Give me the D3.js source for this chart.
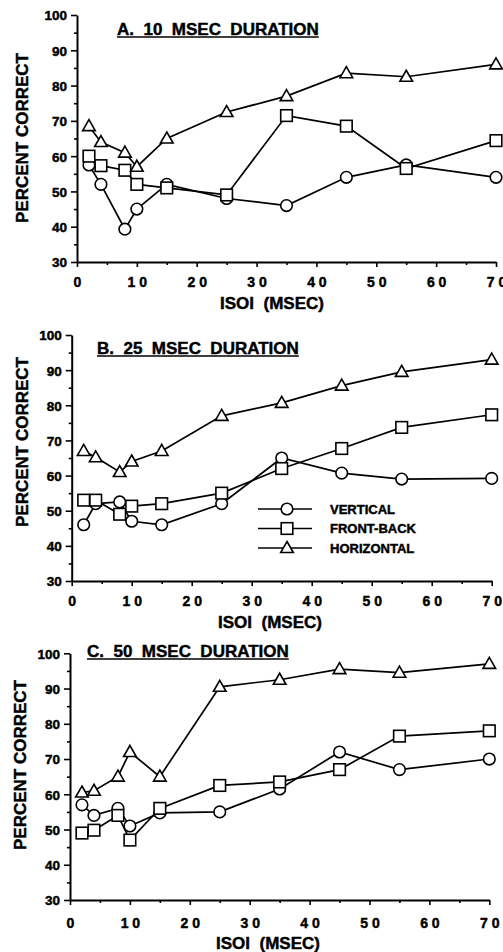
<!DOCTYPE html>
<html>
<head>
<meta charset="utf-8">
<script src="https://cdn.jsdelivr.net/npm/d3@7"></script>
<style>
  html, body { margin: 0; padding: 0; background: #fff; }
  svg { display: block; }
  text { font-family: "Liberation Sans", Arial, Helvetica, sans-serif; font-weight: bold; fill: #000; stroke: #000; stroke-width: 0.45px; }
</style>
</head>
<body>
<svg id="chart" width="503" height="952"></svg>
<script>
// ISOI values (msec) shared by every panel
const isoi = [2, 4, 8, 10, 15, 25, 35, 45, 55, 70];

// Panel titles
const panelTitles = ["A.  10  MSEC  DURATION", "B.  25  MSEC  DURATION", "C.  50  MSEC  DURATION"];

// Series names (legend order)
const seriesNames = ["VERTICAL", "FRONT-BACK", "HORIZONTAL"];

// A. 10 msec duration
const verticalA   = [57.5, 52, 39.3, 45, 52, 48, 46, 54, 57.5, 54];
const frontBackA  = [60, 57.3, 56, 52, 51, 49, 71.5, 68.5, 56.5, 64.4];
const horizontalA = [68.5, 64, 61, 57, 65, 72.5, 77, 83.5, 82.5, 86];

// B. 25 msec duration
const verticalB   = [46, 52, 52.5, 47, 46, 52, 65, 60.7, 59, 59.2];
const frontBackB  = [53, 53, 49, 51.3, 52, 55, 62, 67.7, 73.7, 77.3];
const horizontalB = [67, 65.2, 61, 64, 67, 77, 80.7, 85.6, 89.5, 93];

// C. 50 msec duration
const verticalC   = [57, 54, 56, 51, 54.7, 55, 61.5, 72, 67, 70];
const frontBackC  = [49, 49.8, 54, 47, 56, 62.5, 63.5, 67, 76.5, 78];
const horizontalC = [60.5, 61, 65, 72, 65, 90.5, 92.5, 95.5, 94.5, 97];

// Axis ticks
const yTickValues = [30, 40, 50, 60, 70, 80, 90, 100];
const xTickValues = [0, 10, 20, 30, 40, 50, 60, 70];
const xTickLabels = ["0", "1 0", "2 0", "3 0", "4 0", "5 0", "6 0", "7 0"];

const panelData = [
  [verticalA, frontBackA, horizontalA],
  [verticalB, frontBackB, horizontalB],
  [verticalC, frontBackC, horizontalC]
];

// Layout of each panel on the page
const layout = [
  { left: 77,   right: 496,   top: 15,    bottom: 262, tickY: 287, labelX: 272, labelY: 309, yLabX: 22, yLabY: 138, titleX: 117, titleY: 35  },
  { left: 71.7, right: 491.7, top: 335,   bottom: 581, tickY: 606, labelX: 270, labelY: 628, yLabX: 22, yLabY: 442, titleX: 97,  titleY: 354 },
  { left: 70,   right: 489.3, top: 653.3, bottom: 900, tickY: 928, labelX: 268, labelY: 949, yLabX: 20, yLabY: 765, titleX: 87,  titleY: 657 }
];

const svg = d3.select("#chart");

// Marker shapes: circle, square, triangle (open, white fill)
function drawMarker(g, kind, cx, cy) {
  if (kind === 0) {
    g.append("circle").attr("cx", cx).attr("cy", cy).attr("r", 5.8)
      .attr("fill", "#fff").attr("stroke", "#000").attr("stroke-width", 1.6);
  } else if (kind === 1) {
    g.append("rect").attr("x", cx - 5.8).attr("y", cy - 5.8).attr("width", 11.6).attr("height", 11.6)
      .attr("fill", "#fff").attr("stroke", "#000").attr("stroke-width", 1.6);
  } else {
    const p = d3.path();
    p.moveTo(cx, cy - 6.5);
    p.lineTo(cx + 6.3, cy + 4.5);
    p.lineTo(cx - 6.3, cy + 4.5);
    p.closePath();
    g.append("path").attr("d", p.toString())
      .attr("fill", "#fff").attr("stroke", "#000").attr("stroke-width", 1.6).attr("stroke-linejoin", "miter");
  }
}

layout.forEach((L, pi) => {
  const x = d3.scaleLinear().domain([0, 70]).range([L.left, L.right]);
  const y = d3.scaleLinear().domain([30, 100]).range([L.bottom, L.top]);
  const g = svg.append("g");

  // Y axis: major ticks every 10, minor every 5
  const yAxis = d3.axisLeft(y).tickValues(yTickValues).tickSize(6).tickPadding(4).tickSizeOuter(0);
  const ya = g.append("g").attr("transform", `translate(${L.left},0)`).call(yAxis);
  ya.attr("font-family", null).attr("font-size", null);
  ya.select(".domain").attr("stroke-width", 2);
  ya.selectAll(".tick line").attr("stroke-width", 1.6);
  ya.selectAll(".tick text").attr("font-size", 13.5).attr("dy", "0.36em");
  const yMinor = d3.axisLeft(y).tickValues(d3.range(35, 100, 10)).tickSize(3).tickFormat("");
  const ym = g.append("g").attr("transform", `translate(${L.left},0)`).call(yMinor);
  ym.select(".domain").remove();
  ym.selectAll(".tick line").attr("stroke-width", 1.6);

  // X axis
  const xAxis = d3.axisBottom(x).tickValues(xTickValues).tickSize(5).tickSizeOuter(0)
    .tickFormat((d, i) => xTickLabels[i]);
  const xa = g.append("g").attr("transform", `translate(0,${L.bottom})`).call(xAxis);
  xa.attr("font-family", null).attr("font-size", null);
  xa.select(".domain").attr("stroke-width", 2);
  xa.selectAll(".tick line").attr("stroke-width", 1.6);
  xa.selectAll(".tick text").attr("font-size", 14).attr("xml:space", "preserve")
    .attr("y", null).attr("dy", null)
    .attr("transform", `translate(0,${L.tickY - L.bottom})`);
  const xMinor = d3.axisBottom(x).tickValues(d3.range(5, 70, 10)).tickSize(3).tickFormat("");
  const xm = g.append("g").attr("transform", `translate(0,${L.bottom})`).call(xMinor);
  xm.select(".domain").remove();
  xm.selectAll(".tick line").attr("stroke-width", 1.6);

  // Axis titles
  g.append("text").attr("x", L.labelX).attr("y", L.labelY)
    .attr("text-anchor", "middle").attr("font-size", 17).attr("xml:space", "preserve")
    .text("ISOI  (MSEC)");
  g.append("text").attr("transform", `translate(${L.yLabX + 6},${L.yLabY}) rotate(-90)`)
    .attr("text-anchor", "middle").attr("font-size", 17)
    .text("PERCENT CORRECT");

  // Underlined panel title
  const t = g.append("text").attr("x", L.titleX).attr("y", L.titleY)
    .attr("font-size", 17).attr("xml:space", "preserve").text(panelTitles[pi]);
  const w = t.node().getComputedTextLength();
  g.append("line").attr("x1", L.titleX).attr("x2", L.titleX + w)
    .attr("y1", L.titleY + 2).attr("y2", L.titleY + 2)
    .attr("stroke", "#000").attr("stroke-width", 1.6);

  // Series lines and markers
  const line = d3.line().x((d, i) => x(isoi[i])).y(d => y(d));
  panelData[pi].forEach((vals, si) => {
    g.append("path").datum(vals).attr("d", line)
      .attr("fill", "none").attr("stroke", "#000").attr("stroke-width", 1.7);
  });
  panelData[pi].forEach((vals, si) => {
    vals.forEach((v, i) => drawMarker(g, si, x(isoi[i]), y(v)));
  });

  // Legend in panel B
  if (pi === 1) {
    const lg = g.append("g");
    seriesNames.forEach((name, si) => {
      const ly = 509 + si * 19.5;
      lg.append("line").attr("x1", 258).attr("x2", 312).attr("y1", ly).attr("y2", ly)
        .attr("stroke", "#000").attr("stroke-width", 1.6);
      drawMarker(lg, si, 287, ly);
      lg.append("text").attr("x", 330).attr("y", ly).attr("dy", "0.36em")
        .attr("font-size", 13).text(name);
    });
  }
});
</script>
</body>
</html>
